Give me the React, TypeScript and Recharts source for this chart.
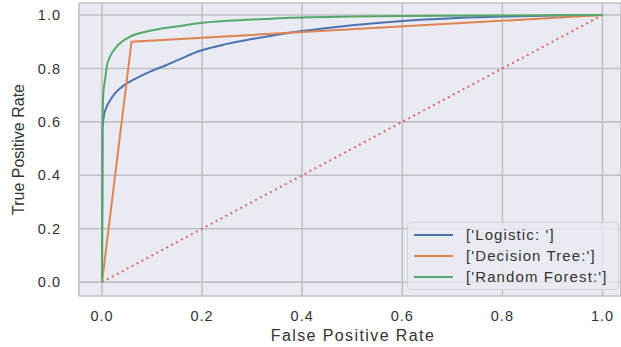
import {
  LineChart,
  Line,
  XAxis,
  YAxis,
  CartesianGrid,
  Label,
} from "recharts";

// ROC points
const logisticFpr = [0, 0.001, 0.004, 0.0094, 0.016, 0.025, 0.036, 0.05, 0.062, 0.08, 0.096, 0.129, 0.156, 0.196, 0.25, 0.3, 0.35, 0.4, 0.5, 0.6, 0.7, 0.8, 0.9, 1.0];
const logisticTpr = [0, 0.58, 0.625, 0.657, 0.68, 0.705, 0.725, 0.745, 0.757, 0.774, 0.788, 0.813, 0.835, 0.866, 0.892, 0.91, 0.926, 0.94, 0.962, 0.978, 0.988, 0.994, 0.998, 1.0];

const treeFpr = [0, 0.059, 1.0];
const treeTpr = [0, 0.9, 1.0];

const forestFpr = [0, 0.001, 0.0026, 0.006, 0.0094, 0.016, 0.029, 0.056, 0.089, 0.156, 0.2, 0.3, 0.4, 0.5, 0.6, 0.8, 1.0];
const forestTpr = [0, 0.6, 0.707, 0.757, 0.806, 0.844, 0.881, 0.919, 0.938, 0.959, 0.971, 0.983, 0.991, 0.994, 0.996, 0.998, 1.0];

const chanceFpr = [0, 1];
const chanceTpr = [0, 1];

const ticks = [0, 0.2, 0.4, 0.6, 0.8, 1.0];

const seriesNames = ["['Logistic: ']", "['Decision Tree:']", "['Random Forest:']"];
const seriesColors = ["#4c72b0", "#dd8452", "#55a868"];
// the tree ROC has only one threshold, so it stays a straight polyline
const seriesCurve = ["monotoneX", "linear", "monotoneX"] as const;

const toPoints = (fpr: number[], tpr: number[]) =>
  fpr.map((x, i) => ({ fpr: x, tpr: tpr[i] }));

const FONT = "'Liberation Sans', Arial, sans-serif";

// legend drawn as a plain box over the plot (lower right, like matplotlib's "best")
const LegendBox = () => (
  <div
    style={{
      position: "absolute",
      left: 407,
      top: 222,
      width: 210,
      height: 65,
      border: "1px solid #d2d2d8",
      borderRadius: 4,
      background: "rgba(234,234,242,0.85)",
      paddingTop: 1,
      fontFamily: FONT,
      fontSize: 15,
      letterSpacing: 1.1,
      color: "#333",
    }}
  >
    {seriesNames.map((name, i) => (
      <div key={name} style={{ display: "flex", alignItems: "center", height: 21 }}>
        <div style={{ width: 39, height: 2, marginLeft: 6, background: seriesColors[i] }} />
        <span style={{ marginLeft: 13, whiteSpace: "nowrap" }}>{name}</span>
      </div>
    ))}
  </div>
);

const App = () => {
  const curves = [
    toPoints(logisticFpr, logisticTpr),
    toPoints(treeFpr, treeTpr),
    toPoints(forestFpr, forestTpr),
  ];

  return (
    <div style={{ position: "absolute", left: 0, top: 0, width: 621, height: 347 }}>
      <LineChart
        width={621}
        height={347}
        margin={{ top: 3, right: 0, left: 0, bottom: 0 }}
        style={{ fontFamily: FONT }}
      >
        <CartesianGrid fill="#eaeaf2" stroke="#bfbfc5" strokeWidth={1.6} />
        <XAxis
          type="number"
          dataKey="fpr"
          domain={[-0.046, 1.037]}
          ticks={ticks}
          tickFormatter={(v: number) => v.toFixed(1)}
          allowDataOverflow
          axisLine={false}
          tickLine={false}
          tickSize={0}
          tickMargin={15}
          height={51}
          tick={{ fill: "#333", fontSize: 14.5, letterSpacing: 1 }}
        >
          <Label
            value="False Positive Rate"
            position="insideBottom"
            offset={6}
            dx={3}
            style={{ fill: "#333", fontSize: 16, letterSpacing: 1.4 }}
          />
        </XAxis>
        <YAxis
          type="number"
          dataKey="tpr"
          domain={[-0.052, 1.045]}
          ticks={ticks}
          tickFormatter={(v: number) => v.toFixed(1)}
          allowDataOverflow
          axisLine={false}
          tickLine={false}
          tickSize={0}
          tickMargin={18}
          width={79}
          tick={{ fill: "#333", fontSize: 14.5, letterSpacing: 1 }}
        >
          <Label
            content={({ viewBox }: any) => {
              const x = viewBox.x + 18;
              const y = viewBox.y + viewBox.height / 2;
              return (
                <text
                  x={x}
                  y={y}
                  transform={`rotate(-90 ${x} ${y})`}
                  textAnchor="middle"
                  dominantBaseline="central"
                  fill="#333"
                  fontSize={16}
                >
                  True Positive Rate
                </text>
              );
            }}
          />
        </YAxis>
        <Line
          data={toPoints(chanceFpr, chanceTpr)}
          dataKey="tpr"
          stroke="#d4686d"
          strokeWidth={2}
          strokeDasharray="2 3.6"
          dot={false}
          legendType="none"
          isAnimationActive={false}
        />
        {curves.map((pts, i) => (
          <Line
            key={seriesNames[i]}
            type={seriesCurve[i]}
            data={pts}
            dataKey="tpr"
            name={seriesNames[i]}
            stroke={seriesColors[i]}
            strokeWidth={2}
            dot={false}
            isAnimationActive={false}
          />
        ))}
      </LineChart>
      <LegendBox />
    </div>
  );
};

export default App;
